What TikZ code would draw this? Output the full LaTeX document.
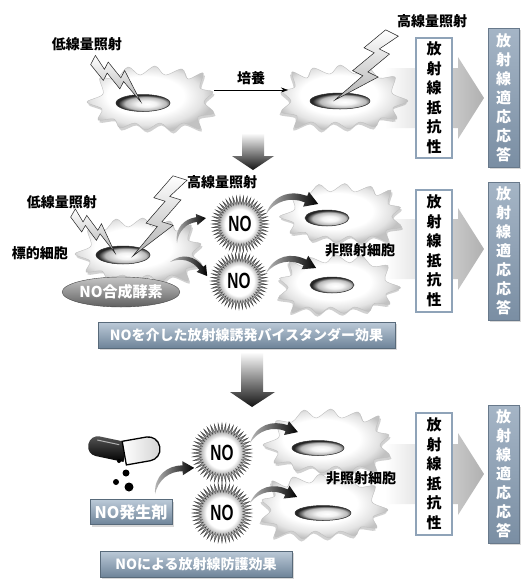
\documentclass[tikz,border=0pt]{standalone}
\usepackage{fontspec}
\usepackage{graphicx}
\newfontfamily\jp{Noto Sans CJK JP}
\newfontfamily\lat{Liberation Sans}
\newcommand\notextfont{\lat\bfseries\fontsize{22}{22}\selectfont}
\usetikzlibrary{shapes.geometric,shadows,arrows.meta}

\definecolor{boxframe}{HTML}{8FA3B8}
\definecolor{bartop}{HTML}{BCCAD8}
\definecolor{barbot}{HTML}{6E8499}
\definecolor{adapttop}{HTML}{A5B5C6}
\definecolor{adaptbot}{HTML}{7A8EA3}

\pgfdeclareradialshading{burstshade}{\pgfpoint{0bp}{0bp}}{%
  color(0bp)=(white); color(13bp)=(white); color(17bp)=(gray!50);
  color(25bp)=(black!80); color(50bp)=(black!80)}
\pgfdeclareradialshading{nucshade}{\pgfpoint{4bp}{-3bp}}{%
  color(0bp)=(white); color(9bp)=(gray!10); color(19bp)=(gray!55);
  color(25bp)=(gray!30!black); color(50bp)=(gray!30!black)}
\pgfdeclareradialshading{cellshade}{\pgfpoint{-3bp}{3bp}}{%
  color(0bp)=(white); color(15bp)=(white); color(22bp)=(gray!22);
  color(26bp)=(gray!48); color(50bp)=(gray!48)}

% jagged outline of a cell, centred on the origin
\newcommand\cellpath{plot[smooth cycle,tension=.55] coordinates {
  (-63,4) (-47,-4) (-50,-20) (-34,-19) (-22,-31) (-10,-23) (5,-32)
  (15,-23) (32,-29) (38,-19) (53,-25) (50,-10) (63,-6) (54,4) (64,15)
  (48,19) (50,31) (33,25) (22,33) (10,25) (-4,32) (-15,25) (-30,30)
  (-36,21) (-52,22) (-48,11)}}

\tikzset{
  lbl/.style={font=\jp\bfseries\fontsize{14}{14}\selectfont, text=black, inner sep=0pt},
  resist/.style={draw=boxframe, line width=1.3pt, fill=white, minimum width=36pt,
    inner sep=0pt, align=center, font=\jp\bfseries\fontsize{15}{19.5}\selectfont},
  adapt/.style={top color=adapttop, bottom color=adaptbot, draw=adaptbot!85!black,
    line width=.4pt, minimum width=31pt, inner sep=0pt, align=center, text=white,
    font=\jp\bfseries\fontsize{15}{19}\selectfont,
    drop shadow={opacity=.3, shadow xshift=1.5pt, shadow yshift=-2pt}},
  effbar/.style={top color=bartop, bottom color=barbot, draw=barbot!80!black,
    line width=.4pt, text=white, inner sep=0pt,
    font=\jp\bfseries\fontsize{14}{14}\selectfont,
    drop shadow={opacity=.3, shadow xshift=1.5pt, shadow yshift=-2pt}},
  burst/.style={star, star points=48, star point ratio=1.45, inner sep=0pt,
    shade, shading=burstshade, draw=gray!50!black, line width=.3pt},
  nucleus/.style={shade, shading=nucshade, draw=gray!35!black, line width=.5pt},
  pics/cell/.style={code={
    \fill[black!45, opacity=.4, shift={(1.5,2.5)}] \cellpath;
    \shade[shading=cellshade, draw=gray!50, line width=.4pt] \cellpath;
  }},
  pics/bolt/.style={code={
    \shade[top color=white, bottom color=gray!60, draw=gray!25!black,
      line width=.5pt, line join=miter]
      (-2.5,0) -- (-6.5,9) -- (-2.5,9) -- (-6.5,18) -- (-2.5,18) -- (-7.5,30)
      -- (2.5,16) -- (-1.5,16) -- (2.5,7) -- (-1.5,7) -- (2.5,0) -- cycle;
  }},
  pics/flick/.style={code={
    \shade[left color=gray!55, right color=black]
      (0,0) .. controls (8,-14) and (22,-15) .. (33.3,-8.2) -- (35.1,-11.2)
      -- (40.6,-0.9) -- (28.9,-0.8) -- (30.7,-3.8)
      .. controls (21,-10) and (9,-9) .. (0,0) -- cycle;
  }},
}

\begin{document}
\begin{tikzpicture}[x=1pt,y=-1pt]
\useasboundingbox (0,0) rectangle (521,579);
\fill[white] (0,0) rectangle (521,579);

% wide grey arrows leading to the response boxes
\foreach \cy in {98,249,474} {
  \shade[left color=white, right color=gray!62]
    (385,\cy-30) -- (458,\cy-30) -- (458,\cy-41) -- (484,\cy) -- (458,\cy+41)
    -- (458,\cy+30) -- (385,\cy+30) -- cycle;
}

% ---------- row 1: priming dose, culture, challenge dose ----------
\coordinate (cellA) at (150,98);
\coordinate (cellB) at (345,97);
\pic at (cellA) {cell};
\pic[xscale=-1] at (cellB) {cell};
\path[nucleus] (143,103) ellipse [x radius=27, y radius=8.5];
\path[nucleus] (340,101) ellipse [x radius=30, y radius=8];

\pic[rotate=62.8, scale=2.06] at (93,60) {bolt};
\pic[rotate=-26.4, scale=2.85] at (392,33) {bolt};

\node[lbl] (low1) at (87,44) {低線量照射};
\node[lbl] (high1) at (432,21) {高線量照射};
\coordinate (cultS) at (214,90);
\coordinate (cultE) at (288,90);
\draw[line width=.6pt, -{Stealth[length=7pt,width=5pt]}] (cultS) -- (cultE);
\node[lbl] (cult) at (251,78) {培養};

\node[resist, minimum height=120pt] (res1) at (434,98) {放\\射\\線\\抵\\抗\\性};
\node[adapt, minimum height=139pt] (ada1) at (503.5,97.5) {放\\射\\線\\適\\応\\応\\答};

\shade[top color=white, bottom color=gray!15!black]
  (242,133) -- (264,133) -- (264,156) -- (274,156) -- (253,170) -- (232,156)
  -- (242,156) -- cycle;

% ---------- row 2: bystander effect mediated by NO ----------
\coordinate (target) at (138,250);
\pic at (target) {cell};
\path[nucleus] (123,255) ellipse [x radius=27, y radius=9];
\node[ellipse, minimum width=98pt, minimum height=30pt, inner sep=0pt,
  top color=gray!45, bottom color=gray!75!black, draw=gray!55!black, line width=.4pt,
  text=white, font=\jp\bfseries\fontsize{15}{15}\selectfont] (nos) at (121,292) {NO合成酵素};

\pic[rotate=60.4, scale=1.88] at (73,213) {bolt};
\pic[rotate=-17.1, scale=2.95] at (180,178) {bolt};

\node[lbl] (high2) at (222,182) {高線量照射};
\node[lbl] (low2) at (62,202) {低線量照射};
\node[lbl] (tgt) at (40,253) {標的細胞};

\coordinate (cellC) at (340,213);
\coordinate (cellD) at (340,284);
\pic[xscale=.96, yscale=.92] at (cellC) {cell};
\pic[xscale=-.96, yscale=.92] at (cellD) {cell};
\path[nucleus] (327,218) ellipse [x radius=22, y radius=8];
\path[nucleus] (332,285) ellipse [x radius=22, y radius=8];
\node[lbl] (non1) at (360,250) {非照射細胞};

\node[burst, minimum size=57pt] (no1) at (240,224) {\scalebox{.7}[1]{\notextfont NO}};
\node[burst, minimum size=57pt] (no2) at (239,281) {\scalebox{.7}[1]{\notextfont NO}};

\pic[rotate=39.5, scale=.94] at (177,243) {flick};
\pic[rotate=-22, scale=.98] at (170,262) {flick};
\pic[rotate=9.6, scale=1.31] at (266,214) {flick};
\pic[rotate=4.4, scale=1.24] at (266,273) {flick};

\node[resist, minimum height=122pt] (res2) at (434,251) {放\\射\\線\\抵\\抗\\性};
\node[adapt, minimum height=138pt] (ada2) at (503.5,251) {放\\射\\線\\適\\応\\応\\答};

\node[effbar, minimum width=297pt, minimum height=26pt] (bar1) at (246.5,335)
  {NOを介した放射線誘発バイスタンダー効果};

\shade[top color=white, bottom color=gray!15!black]
  (241,352) -- (263,352) -- (263,392) -- (275,392) -- (252,407) -- (230,392)
  -- (241,392) -- cycle;

% ---------- row 3: radioprotection by an NO donor ----------
\coordinate (cellE) at (326,441);
\coordinate (cellF) at (325,506);
\pic at (cellE) {cell};
\pic[xscale=-1] at (cellF) {cell};
\path[nucleus] (318,448) ellipse [x radius=26, y radius=7.5];
\path[nucleus] (323,513) ellipse [x radius=28, y radius=7.5];
\node[lbl] (non2) at (361,478) {非照射細胞};

% opened capsule releasing the donor
\begin{scope}[shift={(106,448)}, rotate=-12]
  \shade[top color=black!65, bottom color=black]
    (20,-10) [rounded corners=9.5pt] -- (-18,-10) -- (-18,10) [sharp corners] -- (20,10) -- cycle;
  \draw[white, opacity=.6, line width=1pt, line cap=round] (-10,-6) -- (12,-6);
\end{scope}
\begin{scope}[shift={(142,450)}, rotate=10]
  \shade[left color=white, right color=gray!35, draw=black, line width=1.3pt]
    (-18,-12) -- (6,-12) [rounded corners=11.5pt] -- (18,-12) -- (18,12) [sharp corners]
    -- (-18,12) -- cycle;
\end{scope}
\fill (119,461) circle [radius=2];
\fill (126,473) circle [radius=3.5];
\fill (116,482) circle [radius=3];
\fill (129,487) circle [radius=4.5];

\node[effbar, minimum width=82pt, minimum height=25pt,
  font=\jp\bfseries\fontsize{16}{16}\selectfont] (gen) at (131,512) {NO発生剤};
\pic[rotate=32.4, scale=1.16] at (155,494) {flick};

\node[burst, minimum size=60pt] (no3) at (222,453) {\scalebox{.7}[1]{\notextfont NO}};
\node[burst, minimum size=60pt] (no4) at (222,513) {\scalebox{.7}[1]{\notextfont NO}};
\pic[rotate=11.6, scale=1.21] at (250,443) {flick};
\pic[rotate=6, scale=1.17] at (250,503) {flick};

\node[resist, minimum height=122pt] (res3) at (434,474) {放\\射\\線\\抵\\抗\\性};
\node[adapt, minimum height=138pt] (ada3) at (503.5,474) {放\\射\\線\\適\\応\\応\\答};

\node[effbar, minimum width=192pt, minimum height=26pt] (bar2) at (196,564)
  {NOによる放射線防護効果};
\end{tikzpicture}
\end{document}
